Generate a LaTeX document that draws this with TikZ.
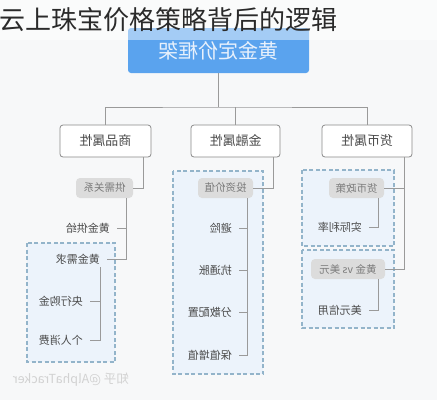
\documentclass[tikz,border=0pt]{standalone}
\usepackage{graphicx}
\usepackage{fontspec}
\setmainfont{Noto Sans CJK SC}
\newfontfamily\cjk{Noto Sans CJK SC}
\usetikzlibrary{calc}
\definecolor{bgc}{HTML}{F7F8F9}
\definecolor{topblue}{HTML}{5AA3EE}
\definecolor{toptext}{HTML}{E8F1FC}
\definecolor{boxgray}{HTML}{8A8A8A}
\definecolor{linegray}{HTML}{9A9A9A}
\definecolor{taggray}{HTML}{DCDCDC}
\definecolor{tagtext}{HTML}{7A7A7A}
\definecolor{leaftext}{HTML}{4A4A4A}
\definecolor{dashblue}{HTML}{93B4CA}
\definecolor{groupfill}{HTML}{ECF3FB}
\definecolor{wmark}{HTML}{D2D2D2}
\definecolor{titlec}{HTML}{2A2A2A}
\newcommand{\mir}[1]{\reflectbox{#1}}
\tikzset{
  topbox/.style={fill=topblue, rounded corners=3pt, minimum width=181pt, minimum height=45pt, text=toptext, font=\cjk\fontsize{20}{24}\selectfont, inner sep=0pt},
  attrbox/.style={draw=boxgray, fill=white, rounded corners=3pt, minimum width=90pt, minimum height=32pt, line width=0.8pt, text=leaftext, font=\cjk\fontsize{13}{16}\selectfont, inner sep=0pt},
  tagbox/.style={fill=taggray, rounded corners=4pt, minimum height=20pt, inner sep=0pt, text=tagtext, font=\cjk\fontsize{10.5}{13}\selectfont},
  leaf/.style={text=leaftext, font=\cjk\fontsize{11}{13}\selectfont, inner xsep=7pt, inner ysep=3pt, anchor=east},
  group/.style={draw=dashblue, dashed, dash pattern=on 4pt off 2.5pt, fill=groupfill, line width=1.2pt},
  conn/.style={draw=linegray, line width=0.8pt},
}
\begin{document}
\begin{tikzpicture}[x=1pt, y=-1pt]
\useasboundingbox (0,0) rectangle (437,400);
\fill[bgc] (0,0) rectangle (437,400);

% top box
\node[topbox] (top) at (218.5,50.5) {\mir{黄金定价框架}};

% attribute boxes
\node[attrbox, minimum width=91pt] (a1) at (105.5,141) {\mir{商品属性}};
\node[attrbox, minimum width=89pt] (a2) at (235.5,141) {\mir{金融属性}};
\node[attrbox] (a3) at (367,141) {\mir{货币属性}};

\coordinate (hb) at (218.5,107);
\draw[conn] (top.south) -- (hb);
\draw[conn] (a1.north) |- (hb) -| (a3.north);
\draw[conn] (a2.north) -- (a2.north |- hb);

% groups
\draw[group] (27,243) rectangle (115,362);
\draw[group] (173,171) rectangle (263,374);
\draw[group] (302,170) rectangle (394,246);
\draw[group] (302,250) rectangle (394,328);

% left column
\node[tagbox, minimum width=57pt] (t1) at (104.5,188) {\mir{供需关系}};
\draw[conn] ([xshift=-8pt]a1.south east) |- (t1.east);
\node[leaf] (l1) at (117,228) {\mir{黄金供给}};
\node[leaf] (l2) at (107,259) {\mir{黄金需求}};
\node[leaf] (l3) at (90,301) {\mir{央行购金}};
\node[leaf] (l4) at (90,340) {\mir{个人消费}};
\coordinate (v1) at ([xshift=-7pt]t1.south east);
\draw[conn] (v1) |- (l2.east);
\draw[conn] (l1.east) -- (l1.east -| v1);
\coordinate (v2) at ([xshift=-7pt]l2.south east);
\draw[conn] (v2) |- (l4.east);
\draw[conn] (l3.east) -- (l3.east -| v2);

% middle column
\node[tagbox, minimum width=55pt] (t2) at (225.5,188) {\mir{投资价值}};
\draw[conn] ([xshift=-7pt]a2.south east) |- (t2.east);
\node[leaf] (m1) at (239,228) {\mir{避险}};
\node[leaf] (m2) at (239,270) {\mir{抗通胀}};
\node[leaf] (m3) at (239,312) {\mir{分散配置}};
\node[leaf] (m4) at (239,355) {\mir{保值增值}};
\coordinate (v3) at ([xshift=-6pt]t2.south east);
\draw[conn] (v3) |- (m4.east);
\draw[conn] (m1.east) -- (m1.east -| v3);
\draw[conn] (m2.east) -- (m2.east -| v3);
\draw[conn] (m3.east) -- (m3.east -| v3);

% right column
\node[tagbox, minimum width=55pt] (t3) at (356.5,188) {\mir{货币政策}};
\node[tagbox, minimum width=74pt] (t4) at (348,269) {\mir{黄金 vs 美元}};
\coordinate (v4) at ([xshift=-8pt]a3.south east);
\draw[conn] (v4) |- (t4.east);
\draw[conn] (t3.east) -- (t3.east -| v4);
\node[leaf] (r1) at (369,227) {\mir{实际利率}};
\node[leaf] (r2) at (369,310) {\mir{美元信用}};
\draw[conn] ([xshift=-6pt]t3.south east) |- (r1.east);
\draw[conn] ([xshift=-7pt]t4.south east) |- (r2.east);

% watermark
\node[text=wmark, font=\cjk\fontsize{12.5}{14}\selectfont, inner sep=0pt] (wm) at (71,380) {\mir{知乎 @AlphaTracker}};

% title band
\fill[white, opacity=0.45] (0,0) rectangle (437,40);
\node[anchor=west, inner sep=0pt, font=\cjk\fontsize{26}{30}\selectfont, text=titlec] (title) at (-1,20) {云上珠宝价格策略背后的逻辑};
\end{tikzpicture}
\end{document}
